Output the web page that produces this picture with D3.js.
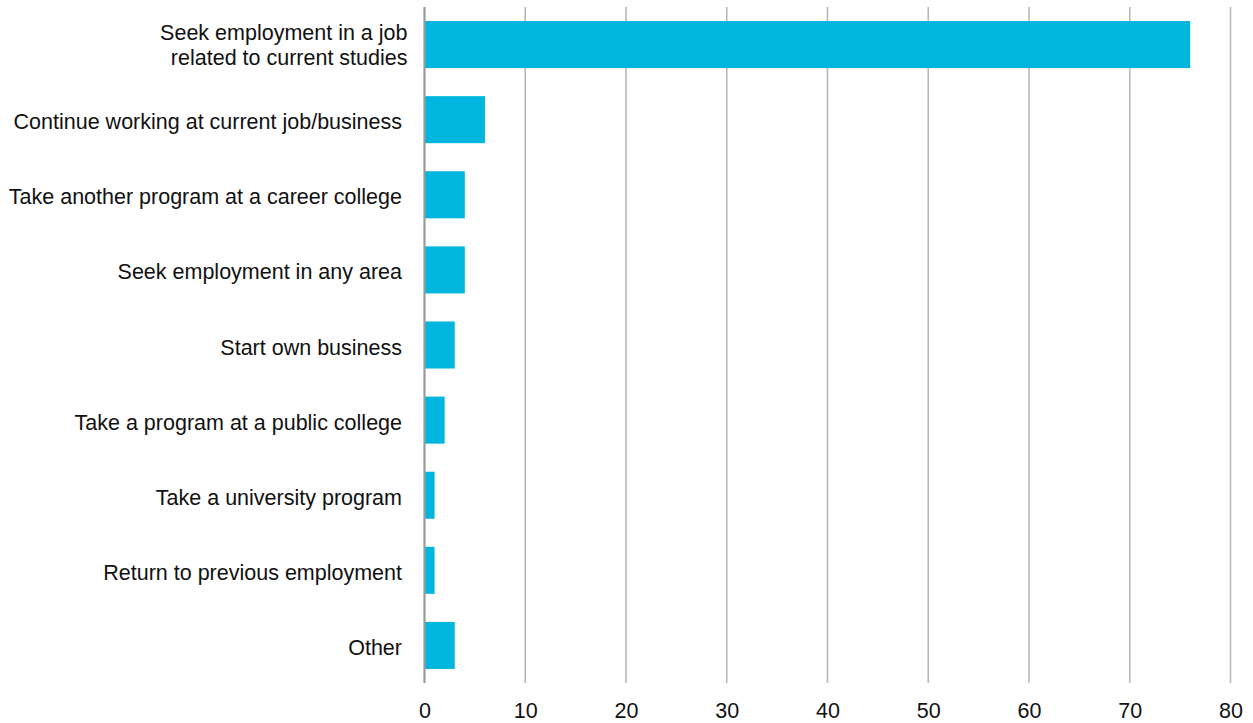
<!DOCTYPE html>
<html>
<head>
<meta charset="utf-8">
<script src="https://cdn.jsdelivr.net/npm/d3@7"></script>
<style>
  html, body { margin: 0; padding: 0; background: #fff; }
  svg { display: block; font-family: "Liberation Sans", Arial, Helvetica, sans-serif; }
</style>
</head>
<body>
<svg id="chart" width="1253" height="723"></svg>
<script>
const categories = [
  "Seek employment in a job\nrelated to current studies",
  "Continue working at current job/business",
  "Take another program at a career college",
  "Seek employment in any area",
  "Start own business",
  "Take a program at a public college",
  "Take a university program",
  "Return to previous employment",
  "Other"
];
const values = [76, 6, 4, 4, 3, 2, 1, 1, 3];
const tickValues = [0, 10, 20, 30, 40, 50, 60, 70, 80];

const svg = d3.select("#chart");
const plotTop = 7, plotBottom = 683, plotLeft = 424.5, plotRight = 1230.5;
const fs = 21.5;

const x = d3.scaleLinear().domain([0, 80]).range([plotLeft, plotRight]);
const y = d3.scaleBand().domain(categories).range([plotTop, plotBottom])
  .paddingInner(0.374).paddingOuter(0.187);

// gridlines
svg.append("g").selectAll("line")
  .data(tickValues.filter(d => d !== 0))
  .join("line")
  .attr("x1", d => x(d)).attr("x2", d => x(d))
  .attr("y1", plotTop).attr("y2", plotBottom)
  .attr("stroke", "#b9b9b9").attr("stroke-width", 1.6);

// bars
svg.append("g").selectAll("rect")
  .data(categories)
  .join("rect")
  .attr("x", x(0))
  .attr("y", d => y(d))
  .attr("width", (d, i) => x(values[i]) - x(0))
  .attr("height", y.bandwidth())
  .attr("fill", "#00b5de");

// zero axis line
svg.append("line")
  .attr("x1", x(0)).attr("x2", x(0))
  .attr("y1", plotTop).attr("y2", plotBottom)
  .attr("stroke", "#9a9a9a").attr("stroke-width", 2.2);

// category labels
const lab = svg.append("g").attr("font-size", fs).attr("fill", "#111").attr("text-anchor", "end");
categories.forEach((c, i) => {
  const lines = c.split("\n");
  const cy = y(c) + y.bandwidth() / 2;
  const multi = lines.length > 1;
  const xr = multi ? 407.5 : 402;
  const lh = 25;
  const firstBase = cy + 9.5 - (lines.length - 1) * lh / 2 - (multi ? 1.5 : 0);
  const t = lab.append("text");
  lines.forEach((ln, k) => {
    t.append("tspan").attr("x", xr).attr("y", firstBase + k * lh).text(ln);
  });
});

// x axis tick labels
const axis = d3.axisBottom(x).tickValues(tickValues).tickSize(0).tickPadding(0).tickFormat(d3.format("d"));
const ag = svg.append("g").attr("transform", `translate(0, ${plotBottom})`).call(axis);
ag.select(".domain").remove();
ag.selectAll("text")
  .attr("font-size", fs)
  .attr("font-family", "\"Liberation Sans\", Arial, Helvetica, sans-serif")
  .attr("fill", "#111")
  .attr("dy", null)
  .attr("y", 34.5);
</script>
</body>
</html>
